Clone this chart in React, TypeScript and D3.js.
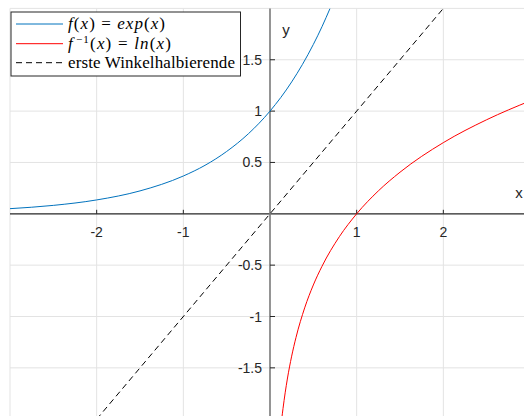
import * as d3 from 'd3';

// sampled values of the three curves
const expX = [-3, -2.5, -2, -1.5, -1, -0.75, -0.5, -0.25, 0, 0.25, 0.5, 0.6, 0.693];
const expY = [0.05, 0.082, 0.135, 0.223, 0.368, 0.472, 0.607, 0.779, 1, 1.284, 1.649, 1.822, 2.0];

const lnX = [0.135, 0.15, 0.175, 0.2, 0.25, 0.3, 0.4, 0.5, 0.6, 0.8, 1, 1.25, 1.5, 2, 2.5, 3];
const lnY = [-2, -1.897, -1.743, -1.609, -1.386, -1.204, -0.916, -0.693, -0.511, -0.223, 0, 0.223, 0.405, 0.693, 0.916, 1.099];

const diagX = [-2, 2];
const diagY = [-2, 2];

const xTicks = [-2, -1, 1, 2];
const yTicks = [-1.5, -1, -0.5, 0.5, 1, 1.5];
const xGrid = [-3, -2, -1, 1, 2, 3];
const yGrid = [-2, -1.5, -1, -0.5, 0.5, 1, 1.5, 2];

const W = 524;
const H = 416;
const font = '"Liberation Sans", Arial, sans-serif';
const serif = '"Liberation Serif", "Times New Roman", serif';

export default function App() {
  const x = d3.scaleLinear().domain([-3, 3]).range([10, 530]);
  const y = d3.scaleLinear().domain([-2, 2]).range([419.2, 8.4]);

  const line = d3
    .line<[number, number]>()
    .x(d => x(d[0]))
    .y(d => y(d[1]))
    .curve(d3.curveMonotoneX);

  const zip = (a: number[], b: number[]) => a.map((v, i) => [v, b[i]] as [number, number]);

  const x0 = x(0);
  const y0 = y(0);

  return (
    <svg width={W} height={H} style={{ position: 'absolute', left: 0, top: 0, background: '#fff' }}>
      <defs>
        <clipPath id="plot">
          <rect x={x(-3)} y={y(2)} width={x(3) - x(-3)} height={y(-2) - y(2)} />
        </clipPath>
      </defs>

      {/* grid */}
      <g stroke="#e3e3e3" strokeWidth={1}>
        {xGrid.map(t => (
          <line key={'gx' + t} x1={x(t)} x2={x(t)} y1={y(2)} y2={y(-2)} />
        ))}
        {yGrid.map(t => (
          <line key={'gy' + t} x1={x(-3)} x2={x(3)} y1={y(t)} y2={y(t)} />
        ))}
      </g>

      {/* axes through origin */}
      <line x1={x(-3)} x2={x(3)} y1={y0} y2={y0} stroke="#262626" strokeWidth={1.2} />
      <line x1={x0} x2={x0} y1={y(2)} y2={y(-2)} stroke="#7a7a7a" strokeWidth={1.6} />

      {xTicks.map(t => (
        <g key={'xt' + t}>
          <line x1={x(t)} x2={x(t)} y1={y0} y2={y0 - 4} stroke="#262626" />
          <text x={x(t)} y={y0 + 23} textAnchor="middle" fontFamily={font} fontSize={14} fill="#262626">
            {t}
          </text>
        </g>
      ))}
      {yTicks.map(t => (
        <g key={'yt' + t}>
          <line x1={x0} x2={x0 + 5} y1={y(t)} y2={y(t)} stroke="#262626" />
          <text x={x0 - 8} y={y(t) + 5} textAnchor="end" fontFamily={font} fontSize={14} fill="#262626">
            {t}
          </text>
        </g>
      ))}

      <text x={519} y={198} textAnchor="middle" fontFamily={font} fontSize={15} fill="#262626">x</text>
      <text x={286} y={35} textAnchor="middle" fontFamily={font} fontSize={15} fill="#262626">y</text>

      {/* curves */}
      <g clipPath="url(#plot)" fill="none">
        <path d={line(zip(expX, expY)) || ''} stroke="#0072BD" strokeWidth={1} />
        <path d={line(zip(lnX, lnY)) || ''} stroke="#FF0000" strokeWidth={1} />
        <path d={line(zip(diagX, diagY)) || ''} stroke="#000" strokeWidth={1} strokeDasharray="6,4" />
      </g>

      {/* legend */}
      <g>
        <rect x={11} y={12} width={229.5} height={64} fill="#fff" stroke="#262626" strokeWidth={1} />
        <line x1={16} x2={63} y1={24} y2={24} stroke="#0072BD" />
        <line x1={16} x2={63} y1={43.7} y2={43.7} stroke="#FF0000" />
        <line x1={16} x2={63} y1={62.7} y2={62.7} stroke="#000" strokeDasharray="6,4" />
        <text x={68} y={29} fontFamily={serif} fontSize={17} fill="#000" textLength={97} lengthAdjust="spacing">
          <tspan fontStyle="italic">f</tspan>(<tspan fontStyle="italic">x</tspan>) = <tspan fontStyle="italic">exp</tspan>(<tspan fontStyle="italic">x</tspan>)
        </text>
        <text x={68} y={48.5} fontFamily={serif} fontSize={17} fill="#000" textLength={103} lengthAdjust="spacing">
          <tspan fontStyle="italic">f</tspan>
          <tspan fontSize={11} dx={2} dy={-6}>−1</tspan>
          <tspan dy={6}>(</tspan><tspan fontStyle="italic">x</tspan>) = <tspan fontStyle="italic">ln</tspan>(<tspan fontStyle="italic">x</tspan>)
        </text>
        <text x={68} y={67.5} fontFamily={serif} fontSize={17} fill="#000" textLength={167} lengthAdjust="spacing">
          erste Winkelhalbierende
        </text>
      </g>
    </svg>
  );
}
